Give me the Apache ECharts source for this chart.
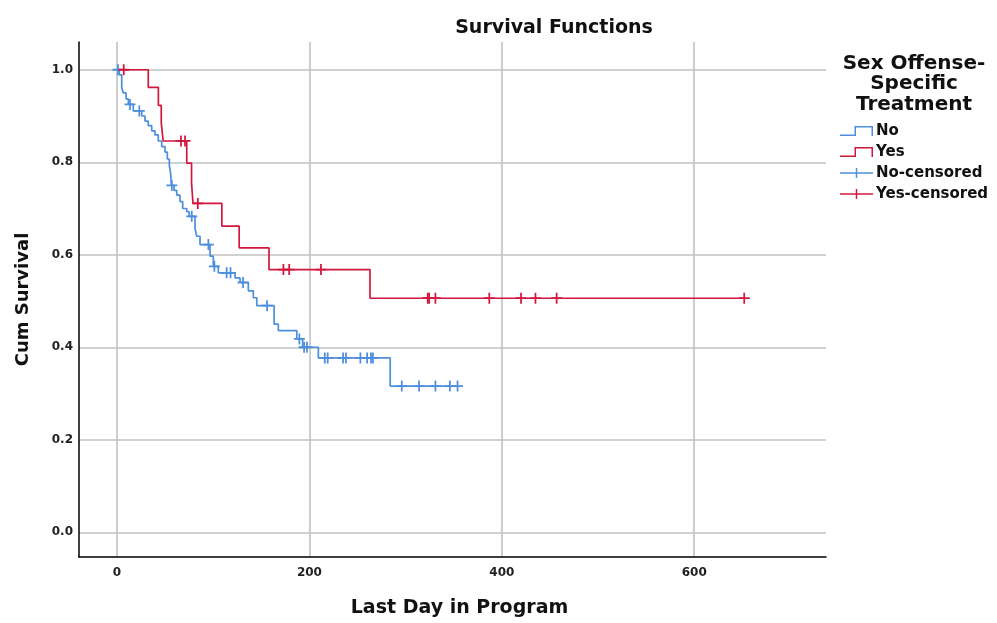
<!DOCTYPE html>
<html>
<head>
<meta charset="utf-8">
<style>
  html, body { margin: 0; padding: 0; background: #fff; }
  #chart { width: 997px; height: 623px; }
</style>
<script src="https://cdn.jsdelivr.net/npm/echarts@6/dist/echarts.min.js"></script>
</head>
<body>
<div id="chart"></div>
<script>
// ---- data ----
const xTicks = [0, 200, 400, 600];
const yTicks = [0, 0.2, 0.4, 0.6, 0.8, 1.0];

// "No" group: step times and survival after each step
const noTimes = [0, 2.4, 4.9, 6.6, 9.4, 11.8, 16.9, 25.7, 29.1, 32.5, 36.1, 39.5, 42.9, 46.5, 49.9, 52.3, 54.4, 55.8, 56.5, 59.3, 62.1, 65.5, 68.3, 72.5, 75, 81.1, 82.9, 86.3, 96.7, 100.1, 105.3, 122.7, 127.9, 136.5, 141.7, 145.3, 163.3, 167.7, 186.9, 193, 209.3, 284, 354];
const noSurv = [1, 0.989, 0.961, 0.950, 0.937, 0.925, 0.911, 0.900, 0.889, 0.879, 0.868, 0.859, 0.846, 0.834, 0.822, 0.807, 0.793, 0.775, 0.750, 0.739, 0.729, 0.715, 0.700, 0.693, 0.683, 0.657, 0.640, 0.622, 0.597, 0.575, 0.561, 0.550, 0.540, 0.522, 0.507, 0.490, 0.450, 0.436, 0.418, 0.400, 0.377, 0.316, 0.316];
const noCensTimes = [1, 13.5, 23.2, 57, 77.7, 95, 101.2, 114, 118, 131, 156, 189.6, 194.5, 197.5, 216, 219, 235, 238, 253, 260, 264, 266, 296, 314, 331, 346, 354];
const noCensSurv = [1, 0.925, 0.911, 0.750, 0.683, 0.622, 0.575, 0.561, 0.561, 0.540, 0.490, 0.418, 0.400, 0.400, 0.377, 0.377, 0.377, 0.377, 0.377, 0.377, 0.377, 0.377, 0.316, 0.316, 0.316, 0.316, 0.316];

// "Yes" group
const yesTimes = [0, 32.5, 43, 46, 48, 72.5, 77.5, 79, 109, 127, 158, 263, 652];
const yesSurv = [1, 0.962, 0.923, 0.885, 0.846, 0.798, 0.755, 0.711, 0.662, 0.615, 0.568, 0.506, 0.506];
const yesCensTimes = [7, 66.5, 70.7, 84, 173, 179, 212, 323, 324.5, 331, 387, 420, 435, 457, 652];
const yesCensSurv = [1, 0.846, 0.846, 0.711, 0.568, 0.568, 0.568, 0.506, 0.506, 0.506, 0.506, 0.506, 0.506, 0.506, 0.506];

const seriesNames = ['No', 'Yes', 'No-censored', 'Yes-censored'];

// ---- styling ----
const BLUE = '#4d8fdc';
const RED = '#d2173f';
const FONT = 'DejaVu Sans';
const zip = (a, b) => a.map((v, i) => [v, b[i]]);

const stepIcon = 'path://M0,8.5L14.5,8.5L14.5,0L33,0L33,10L31.5,10L31.5,1.5L16,1.5L16,10L0,10Z';
const plusIcon = 'path://M0,4.25L15.75,4.25L15.75,0L17.25,0L17.25,4.25L33,4.25L33,5.75L17.25,5.75L17.25,10L15.75,10L15.75,5.75L0,5.75Z';
const censorSymbol = 'path://M4.2,0H5.8V4.2H10V5.8H5.8V10H4.2V5.8H0V4.2H4.2Z';

const chart = echarts.init(document.getElementById('chart'), null, { renderer: 'canvas' });

const option = {
  animation: false,
  backgroundColor: '#fff',
  textStyle: { fontFamily: FONT },
  grid: { left: 79, top: 42, width: 747, height: 521, containLabel: false },
  graphic: [
    { type: 'text', x: 554, y: 28, style: { text: 'Survival Functions', fill: '#111', font: 'bold 19px "DejaVu Sans"', align: 'center', verticalAlign: 'middle' } },
    { type: 'text', x: 914, y: 84, style: { text: 'Sex Offense-\nSpecific\nTreatment', fill: '#111', font: 'bold 20px "DejaVu Sans"', lineHeight: 20.5, align: 'center', verticalAlign: 'middle' } }
  ],
  legend: {
    orient: 'vertical',
    left: 840,
    top: 123,
    itemWidth: 33,
    itemHeight: 10,
    itemGap: 5,
    padding: 0,
    selectedMode: false,
    itemStyle: { borderWidth: 0 },
    textStyle: { fontFamily: FONT, fontWeight: 'bold', fontSize: 15, color: '#111', lineHeight: 16, padding: [0, 0, 0, -2] },
    data: [
      { name: seriesNames[0], icon: stepIcon },
      { name: seriesNames[1], icon: stepIcon },
      { name: seriesNames[2], icon: plusIcon },
      { name: seriesNames[3], icon: plusIcon }
    ]
  },
  xAxis: {
    type: 'value',
    min: -39.5,
    max: 737,
    name: 'Last Day in Program',
    nameLocation: 'middle',
    nameGap: 42,
    nameTextStyle: { fontFamily: FONT, fontWeight: 'bold', fontSize: 19, color: '#111', padding: [0, 0, 0, 14] },
    axisLine: { show: true, onZero: false, lineStyle: { color: '#000', width: 1.5 } },
    axisTick: { show: false, customValues: xTicks },
    axisLabel: { customValues: xTicks, margin: 10, fontFamily: FONT, fontWeight: 'bold', fontSize: 12, color: '#222' },
    splitLine: { show: true, lineStyle: { color: '#c2c2c2', width: 1.6 } }
  },
  yAxis: {
    type: 'value',
    min: -0.0535,
    max: 1.06,
    name: 'Cum Survival',
    nameLocation: 'middle',
    nameGap: 47,
    nameTextStyle: { fontFamily: FONT, fontWeight: 'bold', fontSize: 18, color: '#111' },
    axisLine: { show: true, onZero: false, lineStyle: { color: '#000', width: 1.5 } },
    axisTick: { show: false, customValues: yTicks },
    axisLabel: { customValues: yTicks, margin: 6, fontFamily: FONT, fontWeight: 'bold', fontSize: 12, color: '#222', formatter: v => Number(v).toFixed(1) },
    splitLine: { show: true, lineStyle: { color: '#c2c2c2', width: 1.6 } }
  },
  series: [
    {
      name: seriesNames[0], type: 'line', step: 'end', showSymbol: false, symbol: 'none',
      color: BLUE, lineStyle: { color: BLUE, width: 1.7 }, itemStyle: { color: BLUE },
      data: zip(noTimes, noSurv), z: 3
    },
    {
      name: seriesNames[1], type: 'line', step: 'end', showSymbol: false, symbol: 'none',
      color: RED, lineStyle: { color: RED, width: 1.7 }, itemStyle: { color: RED },
      data: zip(yesTimes, yesSurv), z: 3
    },
    {
      name: seriesNames[2], type: 'scatter', symbol: censorSymbol, symbolSize: 11,
      color: BLUE, itemStyle: { color: BLUE, opacity: 1 },
      data: zip(noCensTimes, noCensSurv), z: 4
    },
    {
      name: seriesNames[3], type: 'scatter', symbol: censorSymbol, symbolSize: 11,
      color: RED, itemStyle: { color: RED, opacity: 1 },
      data: zip(yesCensTimes, yesCensSurv), z: 4
    }
  ]
};
chart.setOption(option);
</script>
</body>
</html>
